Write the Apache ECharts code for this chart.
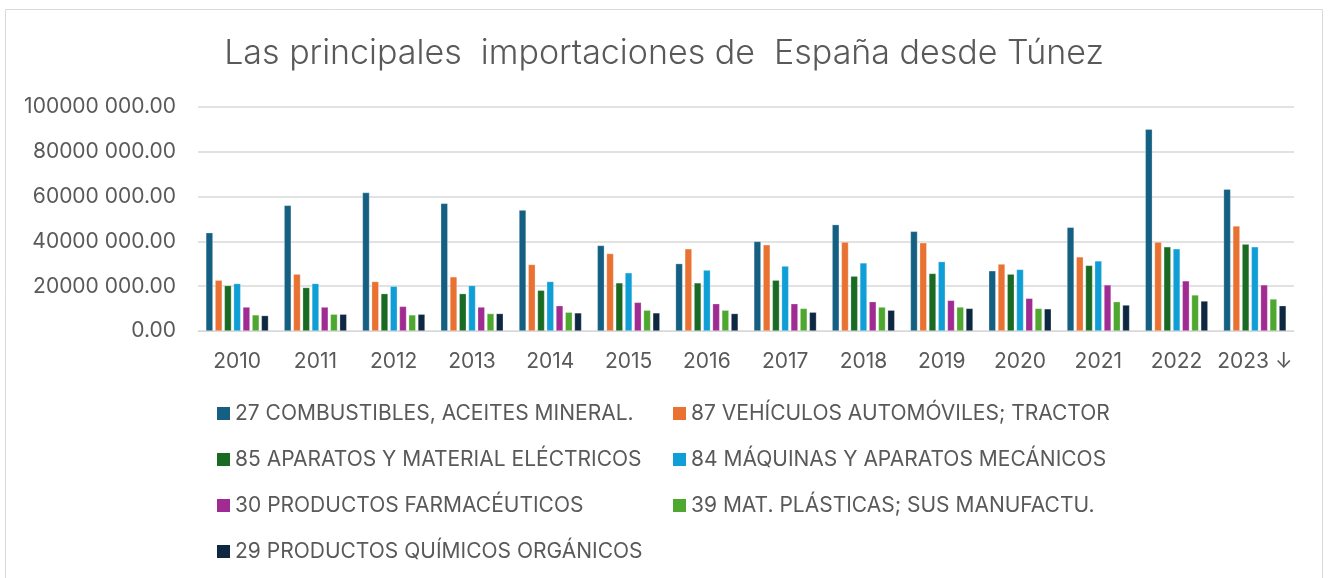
<!DOCTYPE html>
<html>
<head>
<meta charset="utf-8">
<script src="https://cdn.jsdelivr.net/npm/echarts@6/dist/echarts.min.js"></script>
<style>
  html, body { margin: 0; padding: 0; background: #fff; }
  #chart { width: 1328px; height: 578px; }
</style>
</head>
<body>
<div id="chart"></div>
<script>
var years = ['2010', '2011', '2012', '2013', '2014', '2015', '2016', '2017', '2018', '2019', '2020', '2021', '2022', '2023 ↓'];
var yTicks = [0, 20000000, 40000000, 60000000, 80000000, 100000000];

var combustibles = [43.9, 56.1, 61.8, 57.0, 54.0, 38.2, 30.1, 40.0, 47.5, 44.5, 26.9, 46.3, 90.1, 63.3];
var vehiculos    = [22.7, 25.4, 22.1, 24.2, 29.7, 34.6, 36.7, 38.5, 39.7, 39.4, 29.9, 33.1, 39.7, 46.9];
var electricos   = [20.3, 19.4, 16.7, 16.7, 18.2, 21.5, 21.5, 22.7, 24.5, 25.7, 25.4, 29.3, 37.6, 38.8];
var maquinas     = [21.2, 21.2, 20.0, 20.3, 22.1, 26.0, 27.2, 29.0, 30.4, 31.0, 27.5, 31.3, 36.7, 37.6];
var farmaceut    = [10.7, 10.7, 11.0, 10.7, 11.3, 12.8, 12.2, 12.2, 13.1, 13.7, 14.6, 20.6, 22.4, 20.6];
var plasticas    = [7.2, 7.5, 7.2, 7.8, 8.4, 9.3, 9.3, 10.1, 10.7, 10.7, 10.1, 13.1, 16.1, 14.3];
var organicos    = [6.9, 7.5, 7.5, 7.8, 8.1, 8.1, 7.8, 8.4, 9.3, 10.1, 9.9, 11.6, 13.4, 11.3];

var seriesNames = [
    '27 COMBUSTIBLES, ACEITES MINERAL.',
    '87 VEHÍCULOS AUTOMÓVILES; TRACTOR',
    '85 APARATOS Y MATERIAL ELÉCTRICOS',
    '84 MÁQUINAS Y APARATOS MECÁNICOS',
    '30 PRODUCTOS FARMACÉUTICOS',
    '39 MAT. PLÁSTICAS; SUS MANUFACTU.',
    '29 PRODUCTOS QUÍMICOS ORGÁNICOS'
];
var seriesData = [combustibles, vehiculos, electricos, maquinas, farmaceut, plasticas, organicos];
var colors = ['#156082', '#E97132', '#196B24', '#0F9ED5', '#A02B93', '#4EA72E', '#0E2841'];

var font = 'Inter, "Noto Sans", sans-serif';

// values were read in millions
function toUnits(arr) {
    return arr.map(function (v) { return Math.round(v * 1000000); });
}

function fmt(v) {
    if (v === 0) return '0.00';
    var s = String(Math.round(v));
    return s.slice(0, s.length - 3) + ' ' + s.slice(s.length - 3) + '.00';
}

var myChart = echarts.init(document.getElementById('chart'));

var series = seriesNames.map(function (name, i) {
    return {
        name: name,
        type: 'bar',
        barGap: '30%',
        barCategoryGap: '20%',
        itemStyle: {
            color: colors[i],
            borderColor: 'rgba(255,255,255,0.45)',
            borderWidth: 0.6
        },
        data: toUnits(seriesData[i])
    };
});

var legendText = { color: '#595959', fontSize: 21, fontFamily: font, lineHeight: 21 };

option = {
    backgroundColor: '#fff',
    color: colors,
    animation: false,
    title: {
        text: 'Las principales  importaciones de  España desde Túnez',
        left: 'center',
        top: 32,
        textStyle: {
            color: '#595959',
            fontSize: 34,
            fontWeight: 300,
            fontFamily: font
        }
    },
    graphic: [{
        type: 'rect',
        shape: { x: 5.5, y: 9.5, width: 1317, height: 600 },
        style: { fill: 'none', stroke: '#d9d9d9', lineWidth: 1 },
        silent: true
    }],
    legend: [{
        orient: 'vertical',
        left: 217,
        top: 403,
        padding: 0,
        itemWidth: 13,
        itemHeight: 13,
        itemGap: 25,
        itemStyle: { borderWidth: 0 },
        icon: 'rect',
        textStyle: legendText,
        data: [seriesNames[0], seriesNames[2], seriesNames[4], seriesNames[6]]
    }, {
        orient: 'vertical',
        left: 673,
        top: 403,
        padding: 0,
        itemWidth: 13,
        itemHeight: 13,
        itemGap: 25,
        itemStyle: { borderWidth: 0 },
        icon: 'rect',
        textStyle: legendText,
        data: [seriesNames[1], seriesNames[3], seriesNames[5]]
    }],
    grid: {
        left: 198,
        right: 34,
        top: 107,
        height: 224,
        containLabel: false
    },
    xAxis: {
        type: 'category',
        data: years,
        axisLine: { lineStyle: { color: '#d9d9d9', width: 1 } },
        axisTick: { show: false },
        axisLabel: {
            interval: 0,
            color: '#595959',
            fontSize: 21,
            fontFamily: font,
            margin: 20
        }
    },
    yAxis: {
        type: 'value',
        min: yTicks[0],
        max: yTicks[yTicks.length - 1],
        interval: yTicks[1] - yTicks[0],
        splitLine: { lineStyle: { color: '#d9d9d9', width: 1.5 } },
        axisLine: { show: false },
        axisTick: { show: false },
        axisLabel: {
            color: '#595959',
            fontSize: 21,
            fontFamily: font,
            margin: 22,
            formatter: fmt
        }
    },
    series: series
};
myChart.setOption(option);
</script>
</body>
</html>
